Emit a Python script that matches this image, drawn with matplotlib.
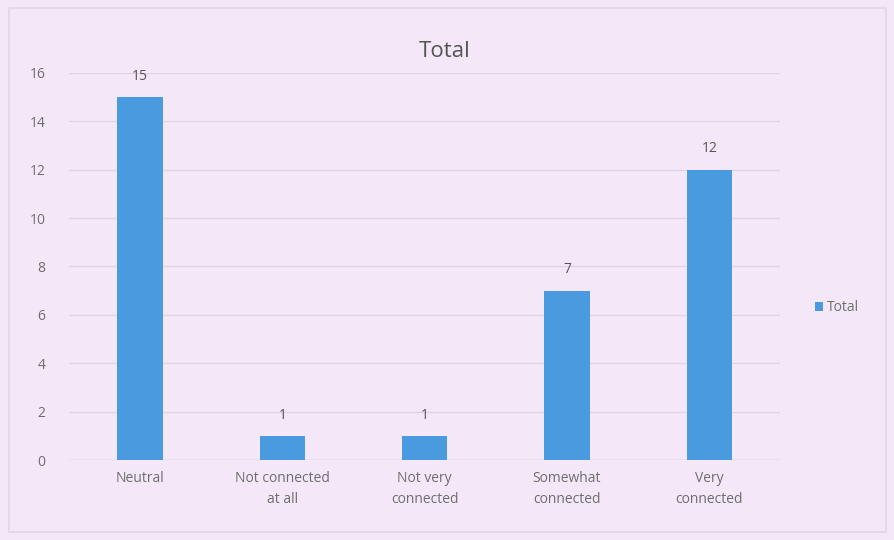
import matplotlib
matplotlib.use('Agg')
import matplotlib.pyplot as plt
from matplotlib.patches import Rectangle

categories = ['Neutral', 'Not connected\nat all', 'Not very\nconnected',
              'Somewhat\nconnected', 'Very\nconnected']
totals = [15, 1, 1, 7, 12]
yticks = [0, 2, 4, 6, 8, 10, 12, 14, 16]

plt.rcParams['font.family'] = ['Open Sans', 'DejaVu Sans']
bg = '#f4e8f8'
bar_color = '#4a9ae0'
text_color = '#6e6e6e'

fig = plt.figure(figsize=(8.95, 5.4), dpi=100, facecolor=bg)
ax = fig.add_axes([0.077, 0.148, 0.795, 0.717], facecolor=bg)

# faint chart border like the Excel chart area
fig.patches.append(Rectangle((0.01, 0.015), 0.98, 0.97, transform=fig.transFigure,
                             fill=False, edgecolor='#e2d6e6', linewidth=1.2))

x = list(range(len(categories)))
bars = ax.bar(x, totals, width=0.32, color=bar_color, label='Total', zorder=3)
for b, v in zip(bars, totals):
    ax.text(b.get_x() + b.get_width() / 2, v + 0.55, str(v), ha='center', va='bottom',
            fontsize=10, color='#555555')

ax.set_xlim(-0.5, len(categories) - 0.5)
ax.set_ylim(0, 16)
ax.set_yticks(yticks)
ax.set_xticks(x)
ax.set_xticklabels(categories, fontsize=10, color=text_color, linespacing=1.5)
ax.tick_params(axis='y', labelsize=10, labelcolor=text_color, length=0, pad=17)
ax.tick_params(axis='x', length=0, pad=8)
ax.grid(axis='y', color='#e0d3e3', linewidth=1, zorder=0)
for s in ax.spines.values():
    s.set_visible(False)
ax.axhline(0, color='#d8cadb', linewidth=1, zorder=2)

fig.text(0.497, 0.905, 'Total', ha='center', va='center', fontsize=16, color='#555555')
fig.legend(handles=[bars], labels=['Total'], loc='center', bbox_to_anchor=(0.935, 0.43),
           frameon=False, fontsize=10, labelcolor=text_color, handlelength=0.6,
           handleheight=0.6, handletextpad=0.3)

fig.savefig('out.png', dpi=100, facecolor=bg)
